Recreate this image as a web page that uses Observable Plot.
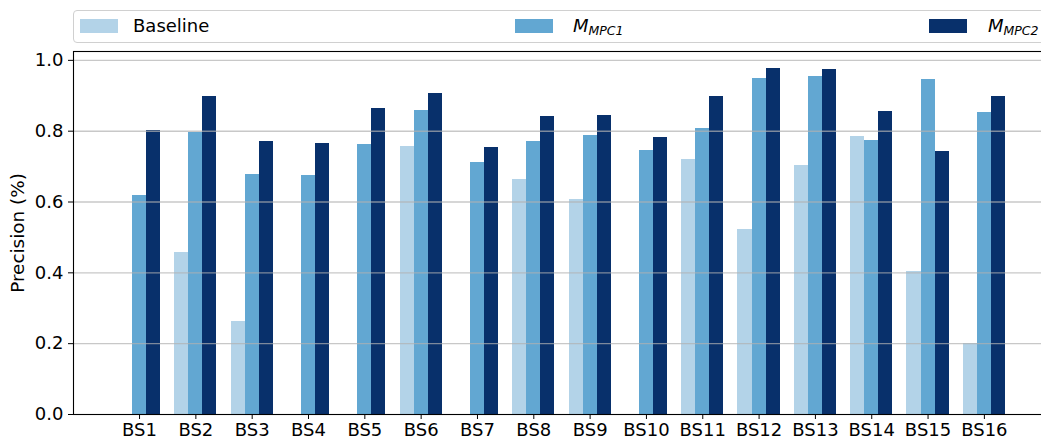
<!DOCTYPE html>
<html><head><meta charset="utf-8">
<script src="https://cdn.jsdelivr.net/npm/d3@7"></script>
<script src="https://cdn.jsdelivr.net/npm/@observablehq/plot@0.6"></script>
<style>
body{margin:0;overflow:hidden;background:#fff;font-family:"DejaVu Sans",sans-serif;}
#legend{position:relative;height:45px;width:1041px;overflow:hidden;}
.box{position:absolute;left:73px;top:10px;width:1000px;height:33px;border:1px solid #d0d0d0;border-radius:4px;box-sizing:border-box;}
.patch{position:absolute;top:19px;width:38px;height:14px;}
.lt{position:absolute;top:16.5px;font-size:18px;line-height:18px;white-space:nowrap;color:#000;}
.lt i{font-style:italic;}
.lt sub{font-size:12.5px;font-style:italic;vertical-align:-2.8px;line-height:0;}
#chart{width:1041px;height:394px;overflow:hidden;}
#chart svg{max-width:none !important;}
</style></head>
<body>
<div id="legend"></div>
<div id="chart"></div>
<script>
const categories = ["BS1","BS2","BS3","BS4","BS5","BS6","BS7","BS8","BS9","BS10","BS11","BS12","BS13","BS14","BS15","BS16"];
const seriesNames = ["Baseline","MPC1","MPC2"];
const baseline = [0, 0.458, 0.263, 0, 0, 0.757, 0, 0.664, 0.607, 0, 0.720, 0.523, 0.703, 0.785, 0.404, 0.201];
const mpc1 = [0.619, 0.797, 0.678, 0.675, 0.763, 0.859, 0.712, 0.771, 0.788, 0.746, 0.808, 0.949, 0.955, 0.774, 0.946, 0.853];
const mpc2 = [0.802, 0.898, 0.771, 0.766, 0.864, 0.907, 0.754, 0.842, 0.845, 0.783, 0.898, 0.977, 0.974, 0.856, 0.743, 0.898];
const colors = ["#b3d3e8", "#62a7d2", "#08306b"];
const yTicks = [0, 0.2, 0.4, 0.6, 0.8, 1.0];
const yLabel = "Precision (%)";

const seriesValues = [baseline, mpc1, mpc2];
const rows = [];
categories.forEach((c, i) => {
  seriesNames.forEach((s, j) => {
    const v = seriesValues[j][i];
    if (v > 0) rows.push({cat: c, series: s, key: c + "|" + s, value: v});
  });
});
const xDomain = categories.flatMap(c => [...seriesNames.map(s => c + "|" + s), c + "|gap"]);

// legend
const legend = document.getElementById("legend");
const legendItems = [
  {html: "Baseline", patchX: 80, textX: 133},
  {html: "<i>M</i><sub>MPC1</sub>", patchX: 515, textX: 573},
  {html: "<i>M</i><sub>MPC2</sub>", patchX: 929, textX: 988}
];
let lh = '<div class="box"></div>';
legendItems.forEach((it, j) => {
  lh += `<div class="patch" style="left:${it.patchX}px;background:${colors[j]}"></div>`;
  lh += `<span class="lt" style="left:${it.textX}px">${it.html}</span>`;
});
legend.innerHTML = lh;

const chart = Plot.plot({
  width: 1070,
  height: 394,
  marginLeft: 73,
  marginRight: 6,
  marginTop: 6,
  marginBottom: 25,
  style: {fontFamily: "DejaVu Sans", fontSize: "18px", color: "#000", background: "#fff", maxWidth: "none"},
  x: {
    domain: xDomain,
    round: false,
    paddingInner: 0,
    paddingOuter: 3.19,
    ticks: categories.map(c => c + "|MPC1"),
    tickFormat: d => d.split("|")[0],
    tickSize: 5,
    tickPadding: 4,
    label: null
  },
  y: {
    domain: [0, 1.025],
    ticks: yTicks,
    tickFormat: d => d.toFixed(1),
    tickSize: 5,
    tickPadding: 5,
    label: null
  },
  color: {domain: seriesNames, range: colors},
  marks: [
    Plot.barY(rows, {x: "key", y: "value", fill: "series", inset: 0, shapeRendering: "crispEdges"}),
    Plot.ruleY(yTicks.slice(1), {stroke: "#b0b0b0", strokeOpacity: 0.7, strokeWidth: 1.4}),
    Plot.frame({stroke: "#000", strokeWidth: 1.1}),
    Plot.text([yLabel], {text: d => d, frameAnchor: "left", textAnchor: "middle", lineAnchor: "middle", dx: -55, rotate: -90, fontSize: 18.4, fill: "#000"})
  ]
});
document.getElementById("chart").appendChild(chart);
</script>
</body></html>
